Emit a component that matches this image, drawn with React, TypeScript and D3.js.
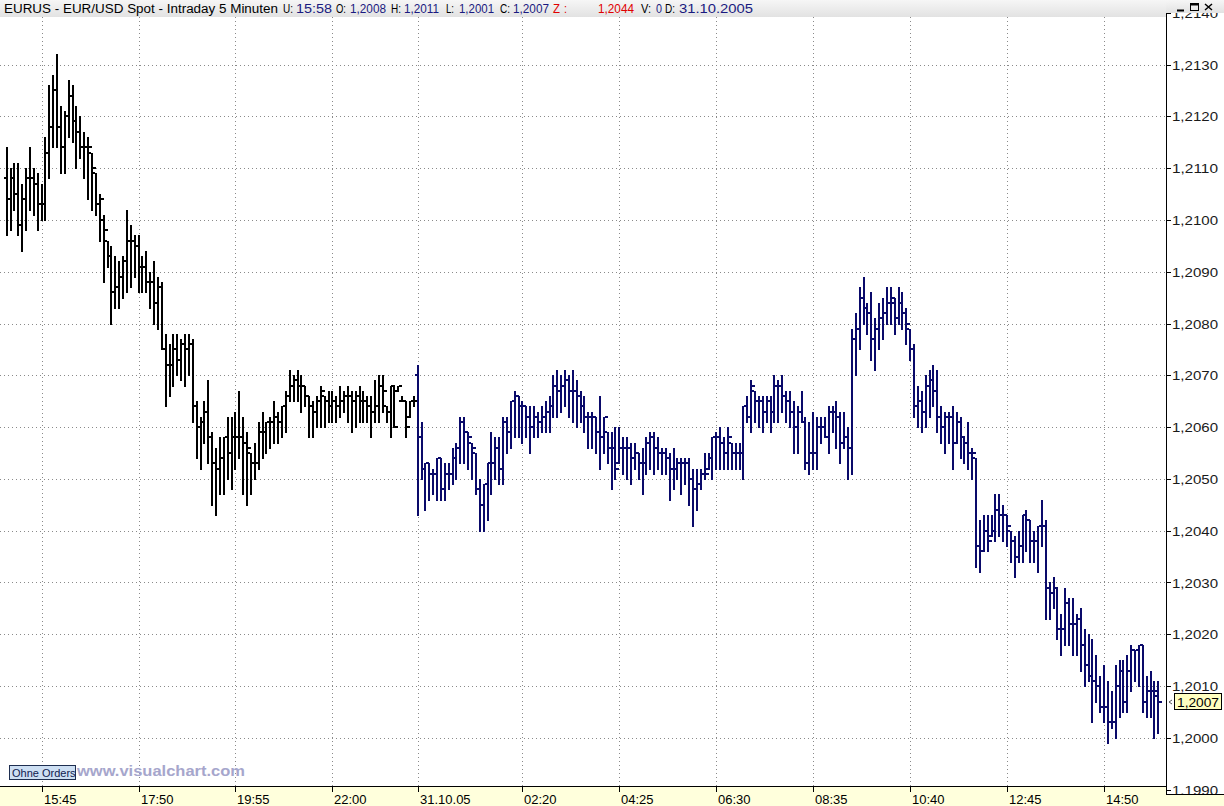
import React from "react";
import * as d3 from "d3";

const W = 1224;
const H = 806;

// OHLC bars, 5-minute EUR/USD (first 106 bars = previous session, drawn black)
const openPrices = [
  1.2108,1.2104,1.2108,1.2105,1.2099,1.2104,1.2108,1.2108,1.2107,1.2103,
  1.2103,1.2113,1.2118,1.2125,1.2118,1.2114,1.2120,1.2124,1.2119,1.2117,
  1.2114,1.2114,1.2113,1.2109,1.2103,1.2100,1.2096,1.2093,1.2086,1.2087,
  1.2089,1.2092,1.2096,1.2096,1.2095,1.2091,1.2091,1.2088,1.2088,1.2084,
  1.2087,1.2075,1.2072,1.2072,1.2075,1.2073,1.2076,1.2075,1.2076,1.2064,
  1.2060,1.2061,1.2063,1.2058,1.2053,1.2052,1.2054,1.2058,1.2055,1.2058,
  1.2058,1.2058,1.2057,1.2055,1.2053,1.2053,1.2059,1.2059,1.2061,1.2061,
  1.2062,1.2061,1.2064,1.2066,1.2068,1.2069,1.2068,1.2068,1.2066,1.2064,
  1.2063,1.2065,1.2066,1.2065,1.2064,1.2065,1.2064,1.2065,1.2066,1.2066,
  1.2065,1.2066,1.2065,1.2065,1.2064,1.2063,1.2064,1.2068,1.2064,1.2063,
  1.2068,1.2067,1.2065,1.2065,1.2062,1.2065,
  1.2070,1.2058,1.2052,1.2053,
  1.2051,1.2051,1.2054,1.2048,1.2051,1.2051,1.2054,1.2056,1.2061,1.2059,
  1.2057,1.2055,1.2048,1.2045,1.2049,1.2053,1.2053,1.2056,1.2052,1.2061,
  1.2059,1.2065,1.2066,1.2064,1.2064,1.2062,1.2060,1.2062,1.2061,1.2062,
  1.2063,1.2064,1.2068,1.2067,1.2068,1.2069,1.2067,1.2067,1.2066,1.2064,
  1.2062,1.2062,1.2062,1.2059,1.2058,1.2059,1.2056,1.2056,1.2053,1.2056,
  1.2056,1.2056,1.2054,1.2055,1.2053,1.2053,1.2057,1.2058,1.2056,1.2055,
  1.2055,1.2054,1.2052,1.2052,1.2053,1.2053,1.2053,1.2050,1.2048,1.2049,
  1.2051,1.2052,1.2054,1.2058,1.2058,1.2057,1.2055,1.2057,1.2055,1.2055,
  1.2055,1.2064,1.2062,1.2067,1.2065,1.2065,1.2063,1.2065,1.2063,1.2068,
  1.2068,1.2066,1.2065,1.2063,1.2060,1.2063,1.2061,1.2053,1.2055,1.2055,
  1.2060,1.2060,1.2058,1.2063,1.2063,1.2062,1.2057,1.2058,1.2056,1.2077,
  1.2079,1.2085,1.2083,1.2082,1.2077,1.2079,1.2081,1.2082,1.2084,1.2084,
  1.2081,1.2084,1.2082,1.2079,1.2075,1.2064,1.2065,1.2063,1.2068,1.2069,
  1.2067,1.2062,1.2060,1.2062,1.2062,1.2057,1.2061,1.2058,1.2057,1.2055,
  1.2054,1.2037,1.2036,1.2040,1.2039,1.2040,1.2044,1.2043,1.2043,1.2040,
  1.2038,1.2035,1.2037,1.2043,1.2042,1.2038,1.2038,1.2041,1.2041,1.2029,
  1.2028,1.2029,1.2021,1.2021,1.2026,1.2022,1.2022,1.2023,1.2018,1.2014,
  1.2012,1.2011,1.2010,1.2006,1.2006,1.2003,1.2003,1.2010,1.2013,1.2007,
  1.2013,1.2017,1.2017,1.2018,1.2007,1.2009,1.2009,1.2008,
];
const highPrices = [
  1.2114,1.2110,1.2111,1.2111,1.2107,1.2110,1.2114,1.2110,1.2109,1.2107,
  1.2116,1.2126,1.2128,1.2132,1.2122,1.2121,1.2127,1.2126,1.2122,1.2120,
  1.2117,1.2116,1.2113,1.2109,1.2105,1.2101,1.2096,1.2095,1.2093,1.2092,
  1.2093,1.2102,1.2099,1.2097,1.2097,1.2093,1.2094,1.2090,1.2092,1.2089,
  1.2088,1.2078,1.2076,1.2078,1.2078,1.2077,1.2078,1.2078,1.2077,1.2065,
  1.2062,1.2065,1.2069,1.2059,1.2056,1.2058,1.2058,1.2062,1.2062,1.2063,
  1.2067,1.2062,1.2059,1.2055,1.2057,1.2061,1.2063,1.2061,1.2062,1.2065,
  1.2063,1.2064,1.2067,1.2071,1.2070,1.2071,1.2070,1.2068,1.2066,1.2065,
  1.2066,1.2068,1.2066,1.2067,1.2067,1.2066,1.2068,1.2067,1.2068,1.2067,
  1.2067,1.2068,1.2067,1.2066,1.2066,1.2069,1.2070,1.2070,1.2064,1.2068,
  1.2068,1.2068,1.2066,1.2065,1.2065,1.2066,
  1.2072,1.2061,1.2053,1.2053,
  1.2052,1.2054,1.2054,1.2053,1.2053,1.2056,1.2057,1.2062,1.2062,1.2059,
  1.2057,1.2055,1.2050,1.2049,1.2053,1.2059,1.2058,1.2058,1.2062,1.2062,
  1.2065,1.2067,1.2066,1.2065,1.2064,1.2064,1.2064,1.2063,1.2064,1.2065,
  1.2066,1.2070,1.2071,1.2070,1.2071,1.2070,1.2071,1.2069,1.2067,1.2066,
  1.2063,1.2063,1.2062,1.2066,1.2062,1.2059,1.2059,1.2060,1.2060,1.2058,
  1.2058,1.2057,1.2057,1.2055,1.2056,1.2058,1.2059,1.2059,1.2058,1.2056,
  1.2056,1.2055,1.2056,1.2054,1.2054,1.2054,1.2054,1.2052,1.2052,1.2052,
  1.2055,1.2055,1.2058,1.2059,1.2060,1.2058,1.2060,1.2057,1.2057,1.2057,
  1.2064,1.2066,1.2069,1.2067,1.2066,1.2066,1.2066,1.2066,1.2070,1.2069,
  1.2070,1.2067,1.2067,1.2065,1.2064,1.2067,1.2062,1.2061,1.2063,1.2062,
  1.2062,1.2062,1.2064,1.2064,1.2065,1.2063,1.2063,1.2060,1.2079,1.2082,
  1.2087,1.2089,1.2084,1.2086,1.2081,1.2084,1.2085,1.2087,1.2087,1.2085,
  1.2087,1.2086,1.2083,1.2079,1.2076,1.2068,1.2067,1.2070,1.2071,1.2072,
  1.2071,1.2064,1.2063,1.2063,1.2064,1.2063,1.2062,1.2058,1.2061,1.2056,
  1.2054,1.2042,1.2043,1.2043,1.2043,1.2047,1.2047,1.2045,1.2043,1.2040,
  1.2039,1.2040,1.2043,1.2044,1.2042,1.2040,1.2041,1.2046,1.2042,1.2030,
  1.2031,1.2029,1.2024,1.2029,1.2027,1.2027,1.2024,1.2025,1.2021,1.2020,
  1.2019,1.2016,1.2012,1.2014,1.2011,1.2009,1.2014,1.2015,1.2015,1.2016,
  1.2018,1.2017,1.2018,1.2018,1.2012,1.2013,1.2011,1.2011,
];
const lowPrices = [
  1.2097,1.2098,1.2102,1.2097,1.2094,1.2098,1.2102,1.2101,1.2098,1.2100,
  1.2100,1.2108,1.2114,1.2114,1.2109,1.2109,1.2116,1.2115,1.2110,1.2112,
  1.2108,1.2104,1.2102,1.2101,1.2096,1.2088,1.2091,1.2080,1.2083,1.2083,
  1.2085,1.2086,1.2087,1.2089,1.2086,1.2086,1.2086,1.2083,1.2080,1.2079,
  1.2075,1.2064,1.2066,1.2068,1.2070,1.2069,1.2068,1.2070,1.2061,1.2054,
  1.2052,1.2057,1.2053,1.2045,1.2043,1.2047,1.2047,1.2050,1.2048,1.2052,
  1.2054,1.2047,1.2045,1.2047,1.2050,1.2052,1.2054,1.2055,1.2056,1.2057,
  1.2057,1.2058,1.2059,1.2065,1.2065,1.2065,1.2063,1.2064,1.2058,1.2058,
  1.2060,1.2060,1.2060,1.2061,1.2061,1.2061,1.2062,1.2063,1.2061,1.2059,
  1.2060,1.2061,1.2061,1.2061,1.2058,1.2061,1.2061,1.2063,1.2061,1.2058,
  1.2060,1.2067,1.2065,1.2058,1.2062,1.2064,
  1.2043,1.2050,1.2044,1.2046,
  1.2047,1.2046,1.2046,1.2046,1.2048,1.2049,1.2050,1.2053,1.2053,1.2052,
  1.2050,1.2047,1.2040,1.2040,1.2042,1.2047,1.2050,1.2049,1.2049,1.2055,
  1.2056,1.2058,1.2058,1.2057,1.2058,1.2055,1.2058,1.2058,1.2059,1.2059,
  1.2059,1.2062,1.2062,1.2063,1.2064,1.2062,1.2061,1.2060,1.2061,1.2059,
  1.2056,1.2056,1.2055,1.2052,1.2055,1.2053,1.2048,1.2050,1.2053,1.2051,
  1.2050,1.2049,1.2052,1.2050,1.2047,1.2051,1.2052,1.2051,1.2052,1.2051,
  1.2051,1.2046,1.2048,1.2050,1.2047,1.2049,1.2045,1.2041,1.2044,1.2048,
  1.2050,1.2052,1.2050,1.2052,1.2052,1.2052,1.2052,1.2052,1.2052,1.2052,
  1.2050,1.2061,1.2059,1.2061,1.2060,1.2059,1.2061,1.2059,1.2061,1.2061,
  1.2063,1.2061,1.2060,1.2055,1.2055,1.2061,1.2052,1.2051,1.2052,1.2052,
  1.2057,1.2058,1.2055,1.2059,1.2056,1.2053,1.2056,1.2050,1.2051,1.2070,
  1.2075,1.2080,1.2078,1.2073,1.2071,1.2075,1.2077,1.2080,1.2080,1.2078,
  1.2080,1.2079,1.2076,1.2073,1.2062,1.2060,1.2059,1.2060,1.2062,1.2064,
  1.2059,1.2057,1.2055,1.2057,1.2052,1.2057,1.2054,1.2053,1.2052,1.2050,
  1.2033,1.2032,1.2036,1.2036,1.2039,1.2038,1.2039,1.2038,1.2037,1.2034,
  1.2031,1.2034,1.2034,1.2036,1.2034,1.2034,1.2032,1.2037,1.2023,1.2023,
  1.2025,1.2019,1.2016,1.2018,1.2018,1.2016,1.2016,1.2013,1.2010,1.2011,
  1.2003,1.2007,1.2005,1.2003,1.1999,1.2002,1.2000,1.2004,1.2005,1.2005,
  1.2009,1.2011,1.2010,1.2005,1.2004,1.2004,1.2000,1.2001,
];
const closePrices = [
  1.2104,1.2108,1.2105,1.2099,1.2104,1.2108,1.2108,1.2107,1.2103,1.2103,
  1.2113,1.2118,1.2125,1.2118,1.2114,1.2120,1.2124,1.2119,1.2117,1.2114,
  1.2114,1.2114,1.2110,1.2103,1.2104,1.2098,1.2093,1.2086,1.2087,1.2089,
  1.2092,1.2096,1.2096,1.2095,1.2091,1.2091,1.2088,1.2088,1.2084,1.2087,
  1.2075,1.2072,1.2072,1.2075,1.2073,1.2076,1.2075,1.2076,1.2064,1.2060,
  1.2061,1.2063,1.2058,1.2053,1.2052,1.2054,1.2058,1.2055,1.2058,1.2058,
  1.2058,1.2057,1.2056,1.2053,1.2053,1.2059,1.2059,1.2061,1.2061,1.2062,
  1.2061,1.2064,1.2066,1.2068,1.2069,1.2068,1.2068,1.2066,1.2064,1.2063,
  1.2065,1.2067,1.2065,1.2064,1.2065,1.2064,1.2065,1.2066,1.2066,1.2065,
  1.2066,1.2065,1.2065,1.2064,1.2063,1.2064,1.2068,1.2067,1.2063,1.2068,
  1.2060,1.2068,1.2065,1.2060,1.2065,1.2065,
  1.2058,1.2052,1.2053,1.2051,
  1.2051,1.2054,1.2048,1.2051,1.2051,1.2054,1.2056,1.2061,1.2059,1.2058,
  1.2056,1.2048,1.2045,1.2049,1.2053,1.2053,1.2056,1.2052,1.2061,1.2059,
  1.2065,1.2066,1.2064,1.2064,1.2062,1.2060,1.2062,1.2061,1.2062,1.2063,
  1.2064,1.2068,1.2067,1.2068,1.2069,1.2067,1.2067,1.2066,1.2064,1.2062,
  1.2062,1.2062,1.2059,1.2058,1.2062,1.2056,1.2056,1.2052,1.2056,1.2056,
  1.2056,1.2054,1.2055,1.2053,1.2053,1.2057,1.2058,1.2056,1.2055,1.2055,
  1.2054,1.2052,1.2052,1.2053,1.2053,1.2053,1.2050,1.2048,1.2049,1.2051,
  1.2051,1.2054,1.2058,1.2058,1.2057,1.2055,1.2058,1.2055,1.2055,1.2055,
  1.2064,1.2062,1.2068,1.2065,1.2065,1.2063,1.2065,1.2063,1.2068,1.2068,
  1.2066,1.2065,1.2063,1.2060,1.2063,1.2061,1.2053,1.2055,1.2055,1.2060,
  1.2060,1.2058,1.2063,1.2063,1.2062,1.2057,1.2058,1.2056,1.2077,1.2079,
  1.2085,1.2083,1.2082,1.2077,1.2079,1.2081,1.2082,1.2084,1.2085,1.2081,
  1.2084,1.2082,1.2080,1.2075,1.2064,1.2065,1.2063,1.2068,1.2069,1.2067,
  1.2062,1.2060,1.2062,1.2062,1.2057,1.2061,1.2058,1.2057,1.2055,1.2055,
  1.2037,1.2036,1.2040,1.2038,1.2040,1.2044,1.2043,1.2043,1.2041,1.2038,
  1.2035,1.2037,1.2043,1.2042,1.2038,1.2038,1.2041,1.2041,1.2029,1.2028,
  1.2029,1.2021,1.2021,1.2026,1.2022,1.2022,1.2023,1.2018,1.2014,1.2012,
  1.2011,1.2010,1.2006,1.2006,1.2003,1.2003,1.2010,1.2013,1.2007,1.2013,
  1.2017,1.2017,1.2018,1.2007,1.2009,1.2009,1.2009,1.2007,
];
const prevSessionBars = 106;

const timeTickIndex = [9, 34, 59, 84, 106, 133, 158, 183, 208, 233, 258, 283];
const timeTickLabels = ["15:45", "17:50", "19:55", "22:00", "31.10.05", "02:20", "04:25", "06:30", "08:35", "10:40", "12:45", "14:50"];
const priceTicks = [1.199, 1.2, 1.201, 1.202, 1.203, 1.204, 1.205, 1.206, 1.207, 1.208, 1.209, 1.21, 1.211, 1.212, 1.213, 1.214];
const lastPrice = 1.2007;

const headerParts: [string, number, number, string][] = [
  ["EURUS - EUR/USD Spot - Intraday 5 Minuten", 4, 274, "#000"],
  ["U:", 283, 10, "#000"],
  ["15:58", 296, 36, "#1a1a80"],
  ["O:", 336, 10, "#000"],
  ["1,2008", 350, 36, "#1a1a80"],
  ["H:", 391, 10, "#000"],
  ["1,2011", 404, 35, "#1a1a80"],
  ["L:", 446, 8, "#000"],
  ["1,2001", 459, 35, "#1a1a80"],
  ["C:", 500, 10, "#000"],
  ["1,2007", 513, 36, "#1a1a80"],
  ["Z", 553, 7, "#e00000"],
  [":", 564, 3, "#e00000"],
  ["1,2044", 598, 36, "#e00000"],
  ["V:", 641, 10, "#000"],
  ["0", 656, 6, "#1a1a80"],
  ["D:", 665, 10, "#000"],
  ["31.10.2005", 679, 74, "#1a1a80"],
];

const FONT = "'Liberation Sans', Arial, sans-serif";
const AXIS_X = 1166;
const AXIS_Y = 786;
const AXIS_R_BOTTOM = 794;
const TOP = 17;

export default function App() {
  const n = closePrices.length;
  const x = d3.scaleLinear().domain([0, n - 1]).range([6.7, 1158.3]);
  const y = d3.scaleLinear().domain([1.2, 1.213]).range([737.9, 64.5]);
  const fmt = (v: number) => d3.format(".4f")(v).replace(".", ",");

  const bars = closePrices.map((c, i) => {
    const cx = Math.round(x(i));
    const yh = Math.round(y(highPrices[i]));
    const yl = Math.round(y(lowPrices[i]));
    const yo = Math.round(y(openPrices[i]));
    const yc = Math.round(y(c));
    const col = i < prevSessionBars ? "#000000" : "#0a0a6a";
    return (
      <g key={i} fill={col}>
        <rect x={cx - 1} y={yh} width={2} height={Math.max(2, yl - yh + 1)} />
        <rect x={cx - 3} y={yo - 1} width={2} height={2} />
        <rect x={cx + 1} y={yc - 1} width={3} height={2} />
      </g>
    );
  });

  return (
    <div style={{ position: "fixed", left: 0, top: 0 }}>
      <svg width={W} height={H} style={{ display: "block", fontFamily: FONT }}>
        <defs>
          <clipPath id="plotClip">
            <rect x={0} y={TOP} width={AXIS_X} height={AXIS_Y - TOP} />
          </clipPath>
          <clipPath id="axisClip">
            <rect x={AXIS_X} y={13} width={W - AXIS_X} height={AXIS_R_BOTTOM - 13} />
          </clipPath>
          <linearGradient id="hdr" x1="0" y1="0" x2="0" y2="1">
            <stop offset="0" stopColor="#f6f6f6" />
            <stop offset="1" stopColor="#e2e2e2" />
          </linearGradient>
        </defs>
        <rect x={0} y={0} width={W} height={H} fill="#ffffff" />

        {/* grid */}
        <g stroke="#8a8a8a" strokeWidth={1} strokeDasharray="1 3">
          {priceTicks.map((p) => (
            <line key={p} x1={0} x2={AXIS_X} y1={Math.round(y(p)) + 0.5} y2={Math.round(y(p)) + 0.5} />
          ))}
          {timeTickIndex.map((t) => (
            <line key={t} x1={Math.round(x(t)) + 0.5} x2={Math.round(x(t)) + 0.5} y1={TOP} y2={AXIS_Y} />
          ))}
        </g>

        {/* bars */}
        <g clipPath="url(#plotClip)">{bars}</g>

        {/* watermark + order box */}
        <rect x={9.5} y={765.5} width={66} height={14} fill="#cddff3" stroke="#1e2e50" />
        <text x={12} y={777} fontSize={11} fill="#102050">Ohne Orders</text>
        <text x={77} y={776} fontSize={14} fontWeight="bold" fill="#a6a6cc" textLength={168} lengthAdjust="spacingAndGlyphs">www.visualchart.com</text>

        {/* bottom axis band */}
        <rect x={0} y={AXIS_Y} width={AXIS_X + 1} height={H - AXIS_Y} fill="#ffffdc" />
        <rect x={AXIS_X} y={AXIS_R_BOTTOM} width={W - AXIS_X} height={H - AXIS_R_BOTTOM} fill="#ffffdc" />
        <line x1={0} x2={AXIS_X} y1={AXIS_Y + 0.5} y2={AXIS_Y + 0.5} stroke="#000" />
        <line x1={AXIS_X} x2={W} y1={AXIS_R_BOTTOM + 0.5} y2={AXIS_R_BOTTOM + 0.5} stroke="#000" />
        {timeTickIndex.map((t, k) => (
          <g key={t}>
            <line x1={Math.round(x(t)) + 0.5} x2={Math.round(x(t)) + 0.5} y1={AXIS_Y} y2={AXIS_Y + 6} stroke="#000" />
            <text x={Math.round(x(t)) + 2} y={804} fontSize={13} fill="#000">{timeTickLabels[k]}</text>
          </g>
        ))}

        {/* right axis */}
        <line x1={AXIS_X + 0.5} x2={AXIS_X + 0.5} y1={8} y2={AXIS_R_BOTTOM} stroke="#000" />
        <g clipPath="url(#axisClip)">
          {priceTicks.map((p) => (
            <g key={p}>
              <line x1={AXIS_X} x2={AXIS_X + 5} y1={Math.round(y(p)) + 0.5} y2={Math.round(y(p)) + 0.5} stroke="#000" />
              <text x={1172} y={y(p) + 5} fontSize={13} fill="#1a1a1a" textLength={46} lengthAdjust="spacingAndGlyphs">{fmt(p)}</text>
            </g>
          ))}
        </g>
        {/* last price marker */}
        <path d={`M1172,${Math.round(y(lastPrice)) - 2} l-3,2 l3,2`} fill="none" stroke="#555" />
        <rect x={1174.5} y={Math.round(y(lastPrice)) - 8.5} width={47} height={16} fill="#ffffc0" stroke="#000" />
        <text x={1177} y={Math.round(y(lastPrice)) + 5} fontSize={13} fill="#000" textLength={42} lengthAdjust="spacingAndGlyphs">{fmt(lastPrice)}</text>

        {/* header */}
        <rect x={0} y={0} width={AXIS_X} height={TOP} fill="url(#hdr)" />
        <rect x={AXIS_X} y={0} width={W - AXIS_X} height={13} fill="url(#hdr)" />
        {headerParts.map(([s, hx, len, col]) => (
          <text key={hx} x={hx} y={13} fontSize={12} fill={col} textLength={len} lengthAdjust="spacingAndGlyphs">{s}</text>
        ))}
        {/* window buttons */}
        <g stroke="#000" fill="none">
          <line x1={1177} x2={1184} y1={10.5} y2={10.5} strokeWidth={2} />
          <rect x={1190.5} y={3.5} width={8} height={7} />
          <line x1={1190} x2={1199} y1={4.5} y2={4.5} strokeWidth={2} />
          <path d="M1205,4 L1212,10 M1212,4 L1205,10" strokeWidth={1.5} />
        </g>
      </svg>
    </div>
  );
}
